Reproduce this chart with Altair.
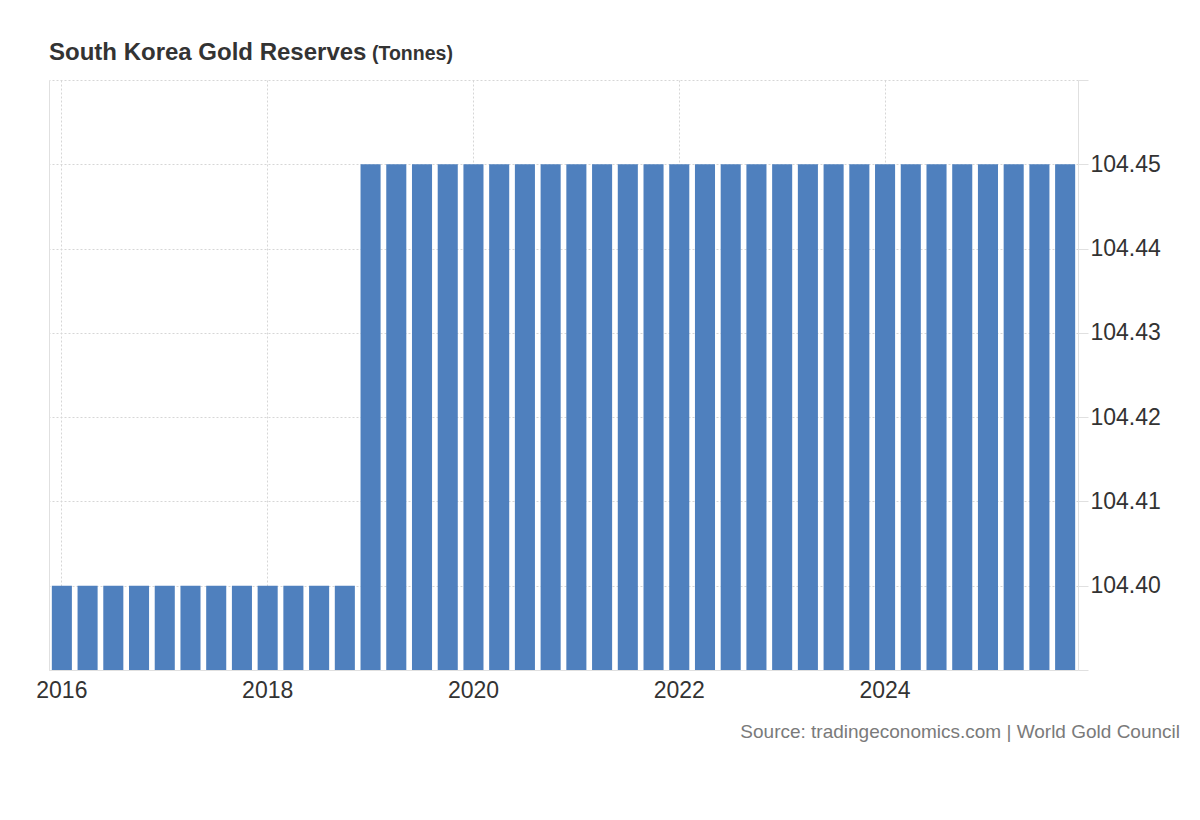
import altair as alt
import pandas as pd

TITLE = "South Korea Gold Reserves"
UNIT = "(Tonnes)"
SOURCE = "Source: tradingeconomics.com | World Gold Council"

QUARTERS = [
    "2016-Q1", "2016-Q2", "2016-Q3", "2016-Q4",
    "2017-Q1", "2017-Q2", "2017-Q3", "2017-Q4",
    "2018-Q1", "2018-Q2", "2018-Q3", "2018-Q4",
    "2019-Q1", "2019-Q2", "2019-Q3", "2019-Q4",
    "2020-Q1", "2020-Q2", "2020-Q3", "2020-Q4",
    "2021-Q1", "2021-Q2", "2021-Q3", "2021-Q4",
    "2022-Q1", "2022-Q2", "2022-Q3", "2022-Q4",
    "2023-Q1", "2023-Q2", "2023-Q3", "2023-Q4",
    "2024-Q1", "2024-Q2", "2024-Q3", "2024-Q4",
    "2025-Q1", "2025-Q2", "2025-Q3", "2025-Q4",
]
RESERVES = [
    104.40, 104.40, 104.40, 104.40,
    104.40, 104.40, 104.40, 104.40,
    104.40, 104.40, 104.40, 104.40,
    104.45, 104.45, 104.45, 104.45,
    104.45, 104.45, 104.45, 104.45,
    104.45, 104.45, 104.45, 104.45,
    104.45, 104.45, 104.45, 104.45,
    104.45, 104.45, 104.45, 104.45,
    104.45, 104.45, 104.45, 104.45,
    104.45, 104.45, 104.45, 104.45,
]
X_TICKS = ["2016-Q1", "2018-Q1", "2020-Q1", "2022-Q1", "2024-Q1"]
Y_TICKS = [104.39, 104.40, 104.41, 104.42, 104.43, 104.44, 104.45, 104.46]
Y_DOMAIN = [104.39, 104.46]

df = pd.DataFrame({"quarter": QUARTERS, "value": RESERVES})

TEXT = "#333333"
LINE = "#e0e0e0"
GRID = "#d6d6d6"

yscale = alt.Scale(domain=Y_DOMAIN, zero=False, nice=False)

bars = alt.Chart(df).mark_bar(color="#4f80be").encode(
    x=alt.X(
        "quarter:N",
        sort=QUARTERS,
        scale=alt.Scale(paddingInner=0.22, paddingOuter=0.11),
        axis=alt.Axis(
            values=X_TICKS,
            labelExpr="slice(datum.value, 0, 4)",
            bandPosition=0.5,
            grid=True,
            gridDash=[2, 2],
            gridColor=GRID,
            ticks=False,
            labelAngle=0,
            labelFontSize=23,
            labelColor=TEXT,
            labelPadding=9,
            domainColor=LINE,
            title=None,
        ),
    ),
    y=alt.Y(
        "value:Q",
        scale=yscale,
        axis=alt.Axis(
            orient="right",
            values=Y_TICKS,
            labelExpr="(datum.value < 104.395 || datum.value > 104.455) ? '' : format(datum.value, '.2f')",
            grid=True,
            gridDash=[2, 2],
            gridColor=GRID,
            tickColor=LINE,
            tickSize=10,
            labelPadding=2,
            labelFontSize=23,
            labelColor=TEXT,
            domainColor=LINE,
            title=None,
        ),
    ),
    y2=alt.datum(104.39),
    tooltip=["quarter:N", "value:Q"],
)

left_line = alt.Chart(df).mark_point(opacity=0).encode(
    y=alt.Y(
        "value:Q",
        axis=alt.Axis(
            orient="left",
            labels=False,
            ticks=False,
            grid=False,
            domainColor=LINE,
            title=None,
        ),
    ),
)

title_main = alt.Chart(pd.DataFrame({"t": [TITLE]})).mark_text(
    align="left", baseline="alphabetic", fontSize=24, fontWeight="bold", color=TEXT
).encode(text="t:N", x=alt.value(0), y=alt.value(-20))

title_unit = alt.Chart(pd.DataFrame({"t": [UNIT]})).mark_text(
    align="left", baseline="alphabetic", fontSize=19.5, fontWeight="bold", color=TEXT
).encode(text="t:N", x=alt.value(323), y=alt.value(-20))

source = alt.Chart(pd.DataFrame({"t": [SOURCE]})).mark_text(
    align="right", baseline="alphabetic", fontSize=19, color="#7a7a7a"
).encode(text="t:N", x=alt.value(1131), y=alt.value(658))

chart = (
    alt.layer(bars, left_line, title_main, title_unit, source)
    .resolve_axis(y="independent")
    .properties(
        width=1029,
        height=590,
        autosize=alt.AutoSizeParams(type="none"),
        padding={"left": 41, "top": 72, "right": 114, "bottom": 130},
    )
    .configure(font="Liberation Sans")
    .configure_view(stroke=None)
)

chart.save("out.html", embed_options={"renderer": "svg", "actions": False})
